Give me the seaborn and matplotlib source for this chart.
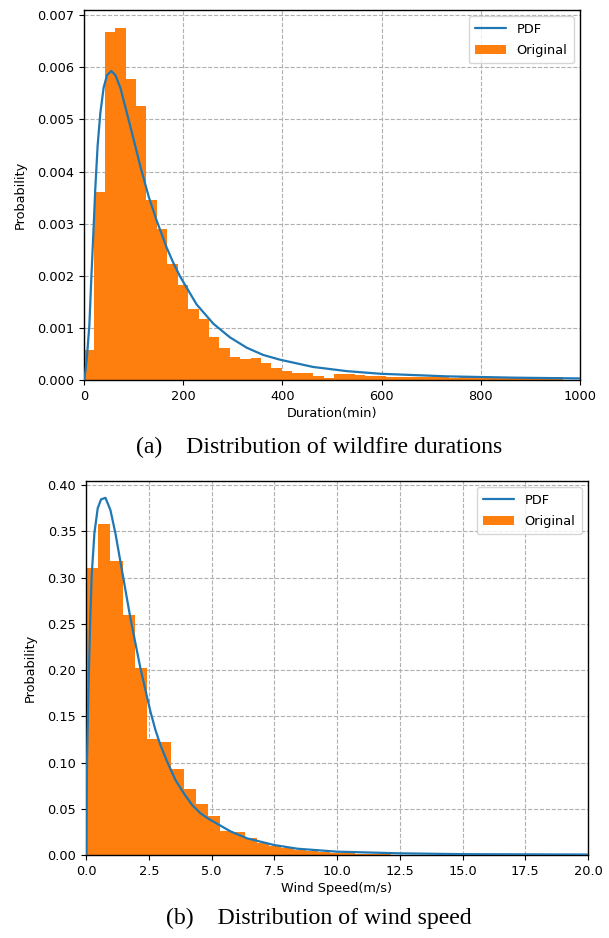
import numpy as np
import pandas as pd
import matplotlib
matplotlib.use("Agg")
import matplotlib.pyplot as plt
import seaborn as sns
from matplotlib.lines import Line2D
from matplotlib.patches import Patch

# ---------------- data ----------------
# (a) wildfire durations: histogram bin width (min) and bar heights
dur_bin_width = 21.0
dur_heights = [0.00058, 0.00360, 0.00667, 0.00676, 0.00578, 0.00526, 0.00345,
               0.00290, 0.00223, 0.00182, 0.00136, 0.00117, 0.00083, 0.00061,
               0.00044, 0.00040, 0.00042, 0.00033, 0.00023, 0.00017, 0.00013,
               0.00013, 0.00008, 0.00004, 0.00012, 0.00012, 0.00010, 0.00008,
               0.00008, 0.00005, 0.00006, 0.00006, 0.00006, 0.00006, 0.00006,
               0.00003, 0.00007, 0.00007, 0.00005, 0.00005, 0.00005, 0.00005,
               0.00005, 0.00005, 0.00005, 0.00005]
# fitted PDF curve
dur_pdf_x = [0, 3, 6, 10.8, 14.8, 19.5, 22.8, 27.5, 32.9, 39.6, 46.4, 55.1,
             63.2, 73.3, 83.3, 96.8, 113.6, 130.4, 146.5, 166.7, 180, 193.5,
             227, 260.8, 294, 328, 361.5, 395, 462, 530, 597, 731, 866, 1000]
dur_pdf_y = [0.0, 0.00018, 0.00045, 0.00105, 0.00196, 0.00295, 0.00368,
             0.00450, 0.00512, 0.00561, 0.00585, 0.00593, 0.00585, 0.00561,
             0.00524, 0.00474, 0.00410, 0.00352, 0.00306, 0.00254, 0.00225,
             0.00199, 0.00145, 0.00108, 0.00082, 0.00062, 0.00048, 0.00039,
             0.00025, 0.00017, 0.00012, 0.00007, 0.000045, 0.00003]

# (b) wind speed
wind_bin_width = 0.4865
wind_heights = [0.310, 0.358, 0.3175, 0.260, 0.202, 0.125, 0.122, 0.093, 0.071,
                0.055, 0.0425, 0.026, 0.025, 0.0187, 0.0133, 0.0097, 0.0079,
                0.0054, 0.0043, 0.0030, 0.0025, 0.0020, 0.0015, 0.0012, 0.0010]
wind_pdf_x = [0.0, 0.043, 0.096, 0.163, 0.228, 0.335, 0.467, 0.60, 0.774,
              0.973, 1.172, 1.372, 1.571, 1.770, 1.970, 2.169, 2.368, 2.568,
              2.767, 2.966, 3.233, 3.565, 3.897, 4.23, 4.56, 4.89, 5.76, 6.42,
              7.49, 8.42, 10.0, 12.5, 15.0, 20.0]
wind_pdf_y = [0.0, 0.105, 0.177, 0.249, 0.303, 0.348, 0.375, 0.3845, 0.3862,
              0.373, 0.3478, 0.317, 0.2865, 0.256, 0.2288, 0.2018, 0.1784,
              0.155, 0.1351, 0.1189, 0.1009, 0.0811, 0.0667, 0.054, 0.0451,
              0.0390, 0.0255, 0.0180, 0.0108, 0.0068, 0.0036, 0.0018, 0.0009,
              0.0005]

dur_xticks = [0, 200, 400, 600, 800, 1000]
dur_yticks = [0.000, 0.001, 0.002, 0.003, 0.004, 0.005, 0.006, 0.007]
wind_xticks = [0.0, 2.5, 5.0, 7.5, 10.0, 12.5, 15.0, 17.5, 20.0]
wind_yticks = [0.00, 0.05, 0.10, 0.15, 0.20, 0.25, 0.30, 0.35, 0.40]

captions = ["(a)    Distribution of wildfire durations",
            "(b)    Distribution of wind speed"]
xlabels = ["Duration(min)", "Wind Speed(m/s)"]

# ---------------- style ----------------
sns.set_style("ticks")
plt.rcParams["font.family"] = ["DejaVu Sans"]
plt.rcParams["text.color"] = "black"
plt.rcParams["axes.labelcolor"] = "black"
plt.rcParams["xtick.color"] = "black"
plt.rcParams["ytick.color"] = "black"
FS = 9.3
ORANGE = "#ff7f0e"
BLUE = "#1f77b4"

fig = plt.figure(figsize=(6.09, 9.38), dpi=100)
ax1 = fig.add_axes([84 / 609, 1 - 380 / 938, 496 / 609, 370 / 938])
ax2 = fig.add_axes([86 / 609, 1 - 855 / 938, 502 / 609, 374.3 / 938])


def draw(ax, width, heights, px, py, xlim, ylim, xticks, yticks, xfmt, yfmt, xlabel):
    edges = [i * width for i in range(len(heights) + 1)]
    centers = [(edges[i] + edges[i + 1]) / 2 for i in range(len(heights))]
    hist_df = pd.DataFrame({"x": centers, "w": heights})
    sns.histplot(data=hist_df, x="x", weights="w", bins=edges, stat="count",
                 color=ORANGE, alpha=1.0, linewidth=0,
                 ax=ax, zorder=2)
    pdf_df = pd.DataFrame({"x": px, "y": py})
    sns.lineplot(data=pdf_df, x="x", y="y", color=BLUE, linewidth=1.6,
                 estimator=None, sort=False, ax=ax, zorder=3)
    ax.set_xlim(*xlim)
    ax.set_ylim(*ylim)
    ax.set_xticks(xticks)
    ax.set_yticks(yticks)
    ax.set_xticklabels([xfmt.format(v) for v in xticks], fontsize=FS)
    ax.set_yticklabels([yfmt.format(v) for v in yticks], fontsize=FS)
    ax.set_xlabel(xlabel, fontsize=FS, labelpad=3, color="black")
    ax.set_ylabel("Probability", fontsize=FS, labelpad=7.5, color="black")
    ax.grid(True, linestyle="--", color="#b0b0b0", linewidth=0.8, zorder=0)
    ax.set_axisbelow(True)
    for s in ax.spines.values():
        s.set_visible(True)
        s.set_color("black")
        s.set_linewidth(1.0)
    ax.tick_params(direction="out", length=3.5, width=0.8, colors="black")
    handles = [Line2D([0], [0], color=BLUE, linewidth=1.6),
               Patch(facecolor=ORANGE, edgecolor="none")]
    leg = ax.legend(handles, ["PDF", "Original"], loc="upper right",
                    fontsize=FS, frameon=True, fancybox=True, framealpha=0.8,
                    handlelength=2.4, labelspacing=0.62, borderpad=0.5)
    leg.get_frame().set_edgecolor("#cccccc")
    for t in leg.get_texts():
        t.set_color("black")


draw(ax1, dur_bin_width, dur_heights, dur_pdf_x, dur_pdf_y, (0, 1000),
     (0, 0.0071), dur_xticks, dur_yticks, "{:.0f}", "{:.3f}", xlabels[0])
draw(ax2, wind_bin_width, wind_heights, wind_pdf_x, wind_pdf_y, (0, 20),
     (0, 0.4047), wind_xticks, wind_yticks, "{:.1f}", "{:.2f}", xlabels[1])

fig.text(319 / 609, 1 - 447 / 938, captions[0], ha="center", va="center",
         fontsize=17.1, color="black", family=["Liberation Serif", "DejaVu Serif"])
fig.text(319 / 609, 1 - 918 / 938, captions[1], ha="center", va="center",
         fontsize=17.1, color="black", family=["Liberation Serif", "DejaVu Serif"])

fig.savefig("out.png", dpi=100)
